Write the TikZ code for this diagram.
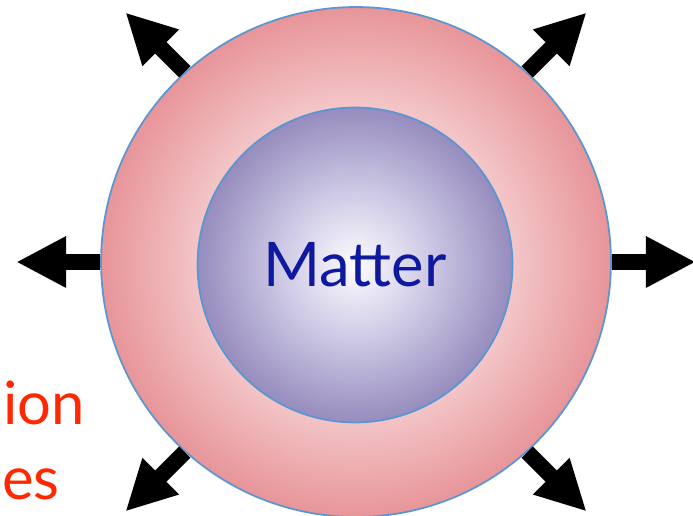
\documentclass[tikz,border=0pt]{standalone}
\usepackage{fontspec}
\setmainfont{Lato}
\usepackage{xcolor}
\usetikzlibrary{arrows.meta}
\definecolor{RingCore}{RGB}{250,225,226}
\definecolor{RingMid}{RGB}{243,197,199}
\definecolor{RingEdge}{RGB}{231,149,153}
\definecolor{CoreWhite}{RGB}{252,252,255}
\definecolor{CoreMid}{RGB}{205,200,228}
\definecolor{CoreEdge}{RGB}{150,140,190}
\definecolor{EdgeBlue}{RGB}{90,150,210}
\definecolor{MatterBlue}{RGB}{15,25,160}
\definecolor{HotRed}{RGB}{255,40,0}
\pgfdeclareradialshading{ringshade}{\pgfpoint{0bp}{0bp}}{color(0bp)=(RingCore); color(15.5bp)=(RingMid); color(25bp)=(RingEdge); color(50bp)=(RingEdge)}
\pgfdeclareradialshading{coreshade}{\pgfpoint{0bp}{0bp}}{color(0bp)=(CoreWhite); color(12bp)=(CoreMid); color(25bp)=(CoreEdge); color(50bp)=(CoreEdge)}
\tikzset{
  shell/.style={circle, draw=EdgeBlue, line width=1pt, inner sep=0pt},
  bigarr/.style={-{Triangle[length=1cm, width=0.96cm]}, line width=0.32cm, black},
  sidetxt/.style={font=\fontsize{34}{40}\selectfont, text=HotRed, anchor=base west, inner sep=0pt},
}
\begin{document}
\begin{tikzpicture}[x=0.02cm, y=-0.02cm]
  \useasboundingbox (0,0) rectangle (693,516);
  % outer shell and core
  \node[shell, minimum size=10.2cm, shading=ringshade] (outer) at (356,262) {};
  \node[shell, minimum size=6.3cm, shading=coreshade, text=MatterBlue,
    font=\fontsize{35}{40}\selectfont] (core) at (355,265) {Matter};
  % outgoing arrows
  \foreach \a/\d in {0/0, 48/45, 132/135, 180/180, 228/225, 312/315}{
    \path (outer.\a) ++(\d:1.68cm) coordinate (tip\a);
    \draw[bigarr] (outer.\a) -- (tip\a);
  }
  % side text
  \node[sidetxt] (ion) at (3,425) {ion};
  \node[sidetxt] (es) at (2,500) {es};
\end{tikzpicture}
\end{document}
